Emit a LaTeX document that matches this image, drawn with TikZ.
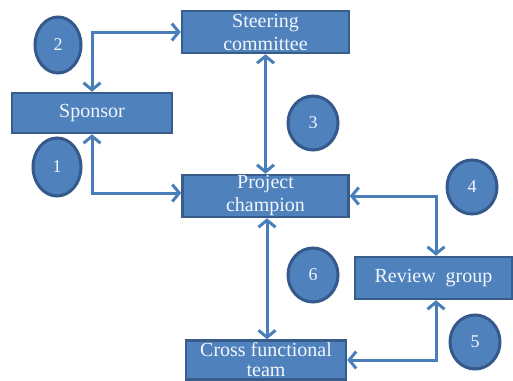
\documentclass[tikz,border=0pt]{standalone}
\usepackage{fontspec}
\setmainfont{Liberation Serif}
\usetikzlibrary{arrows.meta,shapes.geometric}
\definecolor{boxfill}{HTML}{4F81BD}
\definecolor{boxedge}{HTML}{385D8A}
\definecolor{markedge}{HTML}{34598A}
\definecolor{linkblue}{HTML}{4A7EBB}
\definecolor{labeltext}{HTML}{F2F6FB}
\tikzset{
  rolebox/.style={rectangle, draw=boxedge, line width=2.5pt, fill=boxfill,
    text=labeltext, align=center, inner sep=0pt,
    font=\fontsize{20}{23}\selectfont},
  stepmark/.style={ellipse, draw=markedge, line width=3pt, fill=boxfill,
    text=labeltext, inner sep=0pt,
    font=\fontsize{18}{20}\selectfont},
  link/.style={draw=linkblue, line width=3pt,
    {Straight Barb[length=7pt,width=17pt,line width=3pt]}-{Straight Barb[length=7pt,width=17pt,line width=3pt]}}
}
\begin{document}
\begin{tikzpicture}[x=1pt,y=-1pt]
  \useasboundingbox (0,0) rectangle (513,380);

  % role boxes
  \node[rolebox, minimum width=160pt, minimum height=40pt] (spon) at (92,113) {Sponsor};
  \node[rolebox, minimum width=167pt, minimum height=42pt] (steer) at (265.5,32) {Steering\\committee};
  \node[rolebox, minimum width=166pt, minimum height=42pt] (champ) at (265.5,196) {Project\\champion};
  \node[rolebox, minimum width=157pt, minimum height=42pt] (review) at (433.5,278) {Review\ \ group};
  \node[rolebox, minimum width=160pt, minimum height=39pt,
        font=\fontsize{20}{20}\selectfont] (cross) at (266,360) {Cross functional\\team};

  % numbered markers
  \node[stepmark, minimum width=46pt, minimum height=56pt] (m2) at (58,45) {2};
  \node[stepmark, minimum width=48pt, minimum height=58pt] (m1) at (57,167) {1};
  \node[stepmark, minimum width=50pt, minimum height=54pt] (m3) at (313,123) {3};
  \node[stepmark, minimum width=50pt, minimum height=54pt] (m4) at (472,187) {4};
  \node[stepmark, minimum width=50pt, minimum height=54pt] (m6) at (313,275) {6};
  \node[stepmark, minimum width=50pt, minimum height=54pt] (m5) at (475,342) {5};

  % corner points of the elbow connectors
  \coordinate (c2) at (92,32);
  \coordinate (c1) at (92,193);
  \coordinate (c4) at (436,196);
  \coordinate (c5) at (436,360);

  % connectors
  \draw[link] (spon.north) -- (c2) -- (steer.west |- c2);
  \draw[link] (spon.south) -- (c1) -- (champ.west |- c1);
  \draw[link] (steer.south) -- (champ.north);
  \draw[link] (champ.east |- c4) -- (c4) -- (review.north -| c4);
  \draw[link] (review.south -| c5) -- (c5) -- (cross.east |- c5);
  \draw[link] (champ.south -| 267,0) -- (cross.north -| 267,0);
\end{tikzpicture}
\end{document}
